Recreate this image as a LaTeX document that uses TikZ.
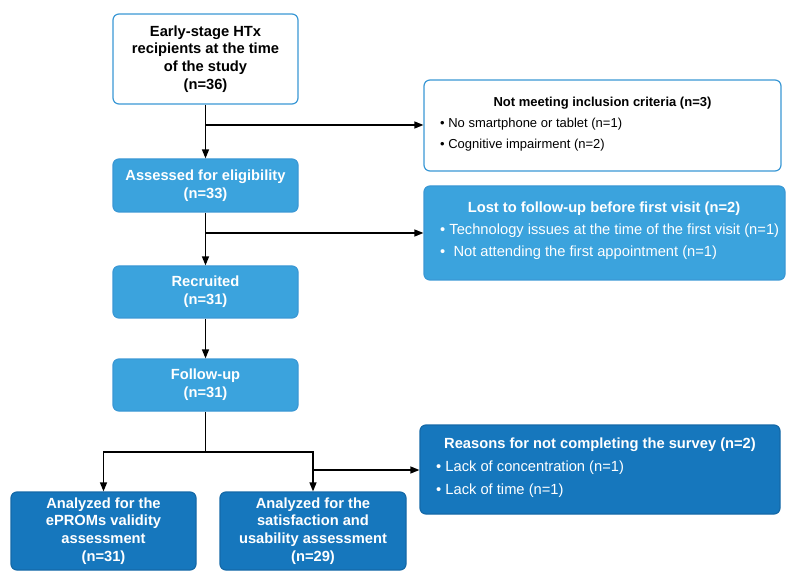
\documentclass[tikz,border=0pt]{standalone}
\usepackage{fontspec}
\setmainfont{Liberation Sans}
\usetikzlibrary{arrows.meta}
\definecolor{lblue}{HTML}{3BA3DD}
\definecolor{dblue}{HTML}{1677BD}
\definecolor{bord}{HTML}{3A98D5}
\definecolor{dbord}{HTML}{1469A8}
\begin{document}
\begin{tikzpicture}[x=1pt,y=-1pt,
  box/.style={rounded corners=6pt, line width=1.2pt, align=center, inner sep=0pt,
    font=\fontsize{14.7}{17.8}\selectfont\bfseries},
  wbox/.style={box, fill=white, draw=bord, text=black},
  lbox/.style={box, fill=lblue, draw=bord, text=white},
  dbox/.style={box, fill=dblue, draw=dbord, text=white},
  ttl/.style={inner sep=0pt, font=\fontsize{13}{15}\selectfont\bfseries},
  itm/.style={inner sep=0pt, anchor=west, font=\fontsize{13}{15}\selectfont},
  bttl/.style={inner sep=0pt, text=white, font=\fontsize{14.7}{17}\selectfont\bfseries},
  bitm/.style={inner sep=0pt, anchor=west, text=white, font=\fontsize{14.7}{17}\selectfont},
  arr/.style={line width=1.3pt, -{Triangle[length=9pt,width=7pt]}},
  ln/.style={line width=1.3pt}]
\useasboundingbox (0,0) rectangle (798,585);

\node[wbox, minimum width=185pt, minimum height=90pt] (top) at (205.5,59)
  {Early-stage HTx\\recipients at the time\\of the study\\(n=36)};
\node[lbox, minimum width=185pt, minimum height=53pt] (as) at (205.5,185.5)
  {Assessed for eligibility\\(n=33)};
\node[lbox, minimum width=185pt, minimum height=52pt] (rc) at (205.5,292)
  {Recruited\\(n=31)};
\node[lbox, minimum width=185pt, minimum height=52pt] (fu) at (205.5,385)
  {Follow-up\\(n=31)};
\node[dbox, minimum width=185pt, minimum height=78pt] (a1) at (103.5,531)
  {Analyzed for the\\ePROMs validity\\assessment\\(n=31)};
\node[dbox, minimum width=186pt, minimum height=78pt] (a2) at (313,531)
  {Analyzed for the\\satisfaction and\\usability assessment\\(n=29)};

\node[wbox, minimum width=357pt, minimum height=91pt] (nm) at (602.5,125.5) {};
\node[ttl] (nmt) at (602.5,103) {Not meeting inclusion criteria (n=3)};
\node[itm] (nm1) at (440,124) {• No smartphone or tablet (n=1)};
\node[itm] (nm2) at (440,145) {• Cognitive impairment (n=2)};

\node[lbox, minimum width=361pt, minimum height=94pt] (lf) at (604.5,233) {};
\node[bttl] (lft) at (604,209) {Lost to follow-up before first visit (n=2)};
\node[bitm] (lf1) at (440,231) {• Technology issues at the time of the first visit (n=1)};
\node[bitm] (lf2) at (440,253) {•\ \ Not attending the first appointment (n=1)};

\node[dbox, minimum width=360pt, minimum height=89pt] (rs) at (600,469.5) {};
\node[bttl] (rst) at (600,445) {Reasons for not completing the survey (n=2)};
\node[bitm] (rs1) at (436,468) {• Lack of concentration (n=1)};
\node[bitm] (rs2) at (436,491) {• Lack of time (n=1)};

\coordinate (j1) at (205.5,125);
\coordinate (j2) at (205.5,233);
\coordinate (j3) at (205.5,452);
\coordinate (j4) at (313,470);

\draw[arr] (top) -- (as);
\draw[arr] (j1) -- (j1 -| nm.west);
\draw[arr] (as) -- (rc);
\draw[arr] (j2) -- (j2 -| lf.west);
\draw[arr] (rc) -- (fu);
\draw[ln] (fu.south) -- (j3);
\draw[arr] (j3) -| (a1.north);
\draw[arr] (j3) -| (a2.north);
\draw[arr] (j4) -- (j4 -| rs.west);
\end{tikzpicture}
\end{document}
